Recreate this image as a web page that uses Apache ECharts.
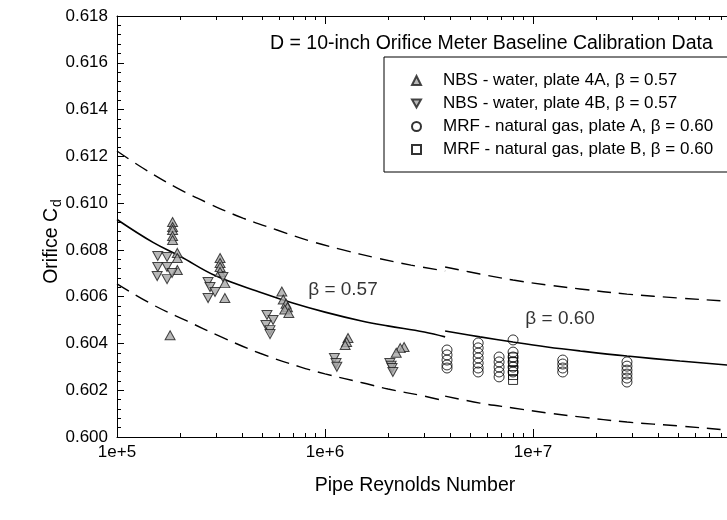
<!DOCTYPE html>
<html><head><meta charset="utf-8">
<script src="https://cdn.jsdelivr.net/npm/echarts@6/dist/echarts.min.js"></script>
<style>html,body{margin:0;padding:0;background:#fff}#c{width:727px;height:520px}</style>
</head><body><div id="c"></div>
<script>
// ---- tick labels / axis ----
const yTickLabels = ['0.600','0.602','0.604','0.606','0.608','0.610','0.612','0.614','0.616','0.618'];
const xMinorTicks = [2e5,3e5,4e5,5e5,6e5,7e5,8e5,9e5,2e6,3e6,4e6,5e6,6e6,7e6,8e6,9e6,2e7,3e7,4e7,5e7,6e7,7e7,8e7,9e7];

// ---- curves, beta = 0.57 (NBS range) ----
const solid57Re = [1.0e5,1.49e5,2.0e5,3.0e5,5.0e5,7.0e5,1.0e6,1.5e6,2.0e6,3.0e6,3.78e6];
const solid57Cd = [0.60930,0.60832,0.60774,0.60688,0.60616,0.60573,0.60534,0.60496,0.60475,0.60449,0.60428];
const upper57Re = [1.0e5,1.33e5,1.94e5,2.8e5,4.03e5,5.88e5,8.47e5,1.22e6,1.78e6,2.59e6,3.78e6];
const upper57Cd = [0.61223,0.61150,0.61065,0.60996,0.60936,0.60885,0.60838,0.60800,0.60765,0.60735,0.60710];
const lower57Re = [1.0e5,1.49e5,2.17e5,3.13e5,4.87e5,7.58e5,1.0e6,1.51e6,2.01e6,2.99e6,3.78e6];
const lower57Cd = [0.60655,0.60565,0.60496,0.60430,0.60358,0.60300,0.60270,0.60232,0.60205,0.60175,0.60154];

// ---- curves, beta = 0.60 (MRF range) ----
const curve60Re = [3.78e6,5.56e6,8.01e6,1.17e7,1.68e7,2.83e7,5.09e7,8.56e7,1.0e8];
const solid60Cd = [0.60453,0.60428,0.60406,0.60385,0.60368,0.60346,0.60325,0.60308,0.60303];
const upper60Cd = [0.60727,0.60697,0.60671,0.60650,0.60633,0.60611,0.60594,0.60581,0.60577];
const lower60Cd = [0.60175,0.60145,0.60124,0.60103,0.60086,0.60064,0.60047,0.60030,0.60027];

// ---- data points ----
const nbs4ARe = [1.85e5,1.85e5,1.85e5,1.85e5,1.85e5,1.95e5,1.95e5,1.95e5,1.80e5,
  3.13e5,3.13e5,3.13e5,3.13e5,3.30e5,3.30e5,
  6.2e5,6.3e5,6.5e5,6.6e5,6.4e5,6.7e5,
  1.29e6,1.27e6,1.25e6,
  2.4e6,2.3e6,2.2e6];
const nbs4ACd = [0.60919,0.60898,0.60885,0.60859,0.60842,0.60787,0.60765,0.60714,0.60435,
  0.60765,0.60744,0.60727,0.60705,0.60658,0.60594,
  0.60622,0.60588,0.60570,0.60555,0.60545,0.60530,
  0.60423,0.60406,0.60393,
  0.60385,0.60380,0.60360];
const nbs4BRe = [1.57e5,1.74e5,1.57e5,1.74e5,1.56e5,1.74e5,1.84e5,
  2.74e5,2.80e5,2.96e5,2.74e5,3.23e5,
  5.26e5,5.63e5,5.2e5,5.44e5,5.44e5,
  1.11e6,1.13e6,1.14e6,
  2.05e6,2.08e6,2.10e6,2.12e6];
const nbs4BCd = [0.60774,0.60770,0.60727,0.60727,0.60688,0.60675,0.60701,
  0.60663,0.60641,0.60620,0.60594,0.60684,
  0.60522,0.60500,0.60479,0.60457,0.60440,
  0.60338,0.60316,0.60300,
  0.60316,0.60305,0.60295,0.60278];
const mrfARe = [3.86e6,3.86e6,3.86e6,3.86e6,3.86e6,
  5.45e6,5.45e6,5.45e6,5.45e6,5.45e6,5.45e6,5.45e6,
  6.87e6,6.87e6,6.87e6,6.87e6,6.87e6,
  8.02e6,8.02e6,8.02e6,8.02e6,8.02e6,8.02e6,
  1.39e7,1.39e7,1.39e7,1.39e7,
  2.83e7,2.83e7,2.83e7,2.83e7,2.83e7,2.83e7];
const mrfACd = [0.60372,0.60351,0.60329,0.60308,0.60295,
  0.60402,0.60381,0.60359,0.60338,0.60316,0.60295,0.60278,
  0.60342,0.60321,0.60299,0.60278,0.60257,
  0.60415,0.60363,0.60342,0.60321,0.60299,0.60278,
  0.60329,0.60312,0.60295,0.60278,
  0.60321,0.60303,0.60286,0.60269,0.60252,0.60235];
const mrfBRe = [8.02e6,8.02e6,8.02e6,8.02e6,8.02e6];
const mrfBCd = [0.60340,0.60320,0.60286,0.60265,0.60244];

// ---- texts ----
const seriesNames = ['NBS - water, plate 4A, β = 0.57','NBS - water, plate 4B, β = 0.57',
  'MRF - natural gas, plate A, β = 0.60','MRF - natural gas, plate B, β = 0.60'];
const titleText = 'D = 10-inch Orifice Meter Baseline Calibration Data';
const betaLabels = ['β = 0.57','β = 0.60'];
const betaLabelRe = [1.22e6,1.35e7];
const betaLabelCd = [0.60628,0.60505];

const FONT = '"Liberation Sans", Arial, sans-serif';
const zip = (a,b) => a.map((v,i)=>[v,b[i]]);

const lineSeries = (re, cd, dashed) => ({
  type:'line', data: zip(re, cd), showSymbol:false, symbol:'none', smooth:0.4,
  lineStyle:{color:'#000', width: dashed ? 1.4 : 1.6, type: dashed ? [14,8] : 'solid'},
  z: 2, silent:true, animation:false
});
const markerStyle = {color:'#a6a6a6', borderColor:'#1a1a1a', borderWidth:1};
const downTri = 'path://M0,0L10,0L5,9Z';

const chart = echarts.init(document.getElementById('c'), null, {renderer:'canvas'});
chart.setOption({
  animation:false,
  backgroundColor:'#fff',
  title:{text:titleText, left:265, top:29, textStyle:{fontSize:19.5, fontWeight:'normal', color:'#000', fontFamily:FONT}},
  legend:{
    data:[{name:seriesNames[0], icon:'triangle'},{name:seriesNames[1], icon:downTri},
          {name:seriesNames[2], icon:'circle'},{name:seriesNames[3], icon:'rect'}],
    orient:'vertical', left:384, top:57,
    padding:[14,140,13,27], itemWidth:9, itemHeight:9, itemGap:4,
    borderColor:'#000', borderWidth:1, selectedMode:false,
    textStyle:{fontSize:17, color:'#000', fontFamily:FONT, lineHeight:19, padding:[0,0,0,17]}
  },
  grid:{left:117, top:16, width:624, height:421, containLabel:false, outerBoundsMode:'none'},
  xAxis:[{
    type:'log', logBase:10, min:1e5, max:1e8, position:'bottom',
    axisLine:{show:true, lineStyle:{color:'#000', width:1}},
    axisTick:{show:true, inside:true, length:8, lineStyle:{color:'#000'}},
    axisLabel:{color:'#000', fontSize:17, fontFamily:FONT, margin:7,
      formatter:v=>{const e=Math.round(Math.log10(v)); return e>=8?'':'1e+'+e;}},
    splitLine:{show:false},
    name:'Pipe Reynolds Number', nameLocation:'middle', nameGap:39, nameMoveOverlap:false,
    nameTextStyle:{fontSize:19.5, color:'#000', fontFamily:FONT, padding:[0,28,0,0]}
  },{
    type:'log', logBase:10, min:1e5, max:1e8, position:'top',
    axisLine:{show:true, lineStyle:{color:'#000', width:1}},
    axisTick:{show:true, inside:true, length:8, lineStyle:{color:'#000'}},
    axisLabel:{show:false}, splitLine:{show:false}
  }],
  yAxis:{
    type:'value', min:0.600, max:0.618, interval:0.002,
    axisLine:{show:true, lineStyle:{color:'#000', width:1}},
    axisTick:{show:true, inside:true, length:7, lineStyle:{color:'#000'}},
    minorTick:{show:true, splitNumber:5, length:4, lineStyle:{color:'#000'}},
    axisLabel:{color:'#000', fontSize:17, fontFamily:FONT, margin:9,
      formatter:(v)=>yTickLabels[Math.round((v-0.6)/0.002)]},
    splitLine:{show:false}, minorSplitLine:{show:false},
    name:'{a|Orifice C}{b|d}', nameLocation:'middle', nameGap:53, nameMoveOverlap:false,
    nameTextStyle:{color:'#000', fontFamily:FONT, fontSize:19.5, padding:[0,30,0,0],
      rich:{a:{fontSize:19.5, fontFamily:FONT, color:'#000'}, b:{fontSize:14, fontFamily:FONT, color:'#000', padding:[10,0,0,1]}}}
  },
  series:[
    lineSeries(upper57Re, upper57Cd, true),
    lineSeries(solid57Re, solid57Cd, false),
    lineSeries(lower57Re, lower57Cd, true),
    lineSeries(curve60Re, upper60Cd, true),
    lineSeries(curve60Re, solid60Cd, false),
    lineSeries(curve60Re, lower60Cd, true),
    {type:'custom', name:'minorTicks', silent:true, clip:false, z:1,
      data: xMinorTicks.map(v=>[v,0.6]),
      renderItem:(params, api)=>{
        const v = api.value(0);
        const b = api.coord([v, 0.600]);
        const t = api.coord([v, 0.618]);
        const x = Math.round(b[0]) + 0.5;
        return {type:'group', children:[
          {type:'line', shape:{x1:x, y1:b[1], x2:x, y2:b[1]-4}, style:{stroke:'#000', lineWidth:1}},
          {type:'line', shape:{x1:x, y1:t[1], x2:x, y2:t[1]+4}, style:{stroke:'#000', lineWidth:1}}
        ]};
      }},
    {type:'scatter', name:seriesNames[0], data:zip(nbs4ARe, nbs4ACd), symbol:'triangle', symbolSize:[10,9],
      itemStyle:markerStyle, z:5},
    {type:'scatter', name:seriesNames[1], data:zip(nbs4BRe, nbs4BCd), symbol:'triangle', symbolRotate:180, symbolSize:[10,9],
      itemStyle:markerStyle, z:5},
    {type:'scatter', name:seriesNames[2], data:zip(mrfARe, mrfACd), symbol:'circle', symbolSize:10,
      itemStyle:{color:'rgba(255,255,255,0)', borderColor:'#000', borderWidth:1}, z:6},
    {type:'scatter', name:seriesNames[3], data:zip(mrfBRe, mrfBCd), symbol:'rect', symbolSize:9,
      itemStyle:{color:'rgba(255,255,255,0)', borderColor:'#000', borderWidth:1}, z:6},
    {type:'scatter', name:'betaLabels', silent:true, symbolSize:1,
      itemStyle:{color:'rgba(0,0,0,0)'},
      data: betaLabels.map((t,i)=>({name:t, value:[betaLabelRe[i], betaLabelCd[i]]})),
      label:{show:true, position:'inside', formatter:p=>p.name, fontSize:19, color:'#000', fontFamily:FONT}, z:7}
  ]
});
</script></body></html>
